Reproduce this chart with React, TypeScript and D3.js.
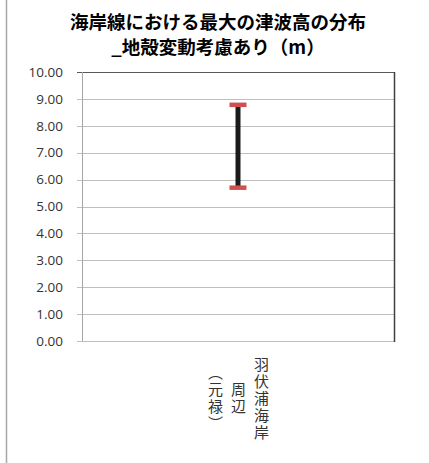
import React from "react";
import * as d3 from "d3";

const titleLines = ["海岸線における最大の津波高の分布", "_地殻変動考慮あり（m）"];
const categories = ["羽伏浦海岸周辺（元禄）"];
const categoryLabelColumns = [["羽伏浦海岸", "周辺", "（元禄）"]];
const maxValues = [8.78];
const minValues = [5.7];
const yTicks = [0, 1, 2, 3, 4, 5, 6, 7, 8, 9, 10];

const W = 429;
const H = 463;
const M = { left: 82, right: 394, top: 72, bottom: 341 };

export default function App() {
  const x = d3.scaleBand<string>().domain(categories).range([M.left, M.right]);
  const y = d3.scaleLinear().domain([0, 10]).range([M.bottom, M.top]);
  const fmt = d3.format(".2f");
  const capW = 17;

  return (
    <svg
      width={W}
      height={H}
      style={{ position: "absolute", left: 0, top: 0, background: "#fff" }}
      fontFamily="'Noto Sans CJK JP', 'Noto Sans', sans-serif"
    >
      <line x1={6.5} x2={6.5} y1={0} y2={H} stroke="#a6a6a6" strokeWidth={1.5} />
      {titleLines.map((t, i) => (
        <text
          key={i}
          x={218}
          y={29 + i * 25}
          textAnchor="middle"
          fontSize={18.5}
          fontWeight="bold"
          fill="#000"
        >
          {t}
        </text>
      ))}
      {yTicks.map((v) => (
        <g key={v}>
          <line
            x1={M.left - 5}
            x2={M.right}
            y1={Math.round(y(v)) + 0.5}
            y2={Math.round(y(v)) + 0.5}
            stroke={v === 10 ? "#595959" : "#bfbfbf"}
            strokeWidth={1}
          />
          <text
            x={63}
            y={y(v)}
            dy="0.35em"
            textAnchor="end"
            fontSize={13.5}
            fontFamily="'Open Sans', 'Liberation Sans', sans-serif"
            fill="#333"
          >
            {fmt(v)}
          </text>
        </g>
      ))}
      <line x1={M.left + 0.5} x2={M.left + 0.5} y1={M.top} y2={M.bottom} stroke="#a6a6a6" />
      <line x1={M.right + 0.5} x2={M.right + 0.5} y1={M.top} y2={M.bottom + 1} stroke="#404040" strokeWidth={1.5} />
      {categories.map((c, i) => {
        const cx = (x(c) as number) + x.bandwidth() / 2;
        return (
          <g key={c}>
            <line x1={cx} x2={cx} y1={y(maxValues[i])} y2={y(minValues[i])} stroke="#1a1a1a" strokeWidth={5} />
            <line x1={cx - capW / 2} x2={cx + capW / 2} y1={y(maxValues[i])} y2={y(maxValues[i])} stroke="#d05050" strokeWidth={4.5} />
            <line x1={cx - capW / 2} x2={cx + capW / 2} y1={y(minValues[i])} y2={y(minValues[i])} stroke="#d05050" strokeWidth={4.5} />
            {categoryLabelColumns[i].map((col, j) => (
              <text
                key={j}
                x={cx + 23.5 - j * 23}
                y={399}
                textAnchor="middle"
                fontSize={15}
                letterSpacing={2}
                fill="#333"
                style={{ writingMode: "vertical-rl" }}
              >
                {col}
              </text>
            ))}
          </g>
        );
      })}
    </svg>
  );
}
